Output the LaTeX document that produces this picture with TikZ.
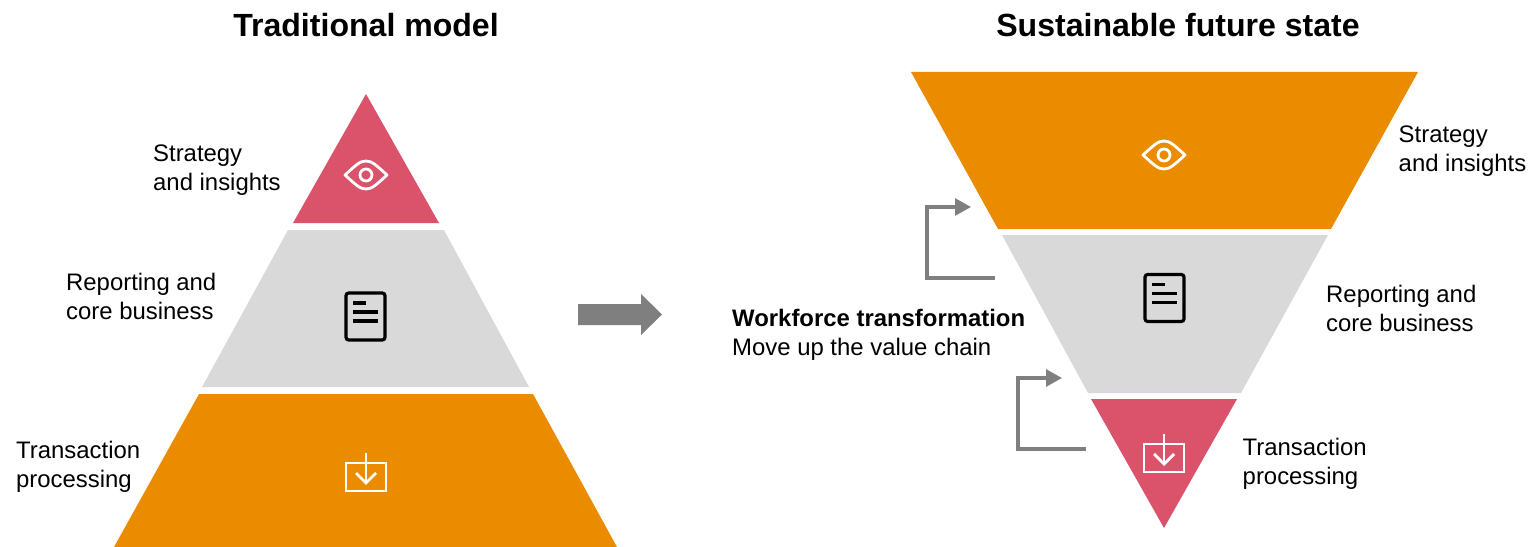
\documentclass[tikz,border=0pt]{standalone}
\usepackage{fontspec}
\usetikzlibrary{arrows.meta}
\setmainfont{Liberation Sans}
\definecolor{orangeblock}{HTML}{EB8C00}
\definecolor{pinkblock}{HTML}{DB536A}
\definecolor{greyblock}{HTML}{D9D9D9}
\definecolor{greyarrow}{HTML}{7F7F7F}
\begin{document}
\begin{tikzpicture}[x=0.02cm, y=-0.02cm,
  title/.style={font=\fontsize{18.25}{22}\selectfont\bfseries},
  label/.style={anchor=west, align=left, font=\fontsize{13.6}{16.5}\selectfont},
  elbow/.style={draw=greyarrow, line width=1.75pt, -{Triangle[length=9pt, width=9.5pt]}},
  eyeicon/.pic={
    \draw[white, line width=1.6pt, line join=round] (-21,0) .. controls (-10,-10) and (-6,-14) .. (0,-14) .. controls (6,-14) and (10,-10) .. (21,0) .. controls (10,10) and (6,14) .. (0,14) .. controls (-6,14) and (-10,10) .. cycle;
    \draw[white, line width=1.6pt] (0,0) circle (6);
  },
  docicon/.pic={
    \draw[black, line width=1.8pt, rounded corners=1.5pt] (-19.5,-23.5) rectangle (19.5,23.5);
    \draw[black, line width=1.75pt] (-12.5,-13.5) -- (0.5,-13.5);
    \draw[black, line width=1.75pt] (-12.5,-4.5) -- (12.5,-4.5);
    \draw[black, line width=1.75pt] (-12.5,4.5) -- (12.5,4.5);
  },
  downicon/.pic={
    \draw[white, line width=1.6pt] (-20,-14) rectangle (20,14);
    \draw[white, line width=1.6pt] (0,-24) -- (0,6);
    \draw[white, line width=1.6pt] (-10,-4) -- (0,6) -- (10,-4);
  }]
\useasboundingbox (0,0) rectangle (1530,547);
% left pyramid
\fill[pinkblock] (366,94) -- (439,223) -- (293,223) -- cycle;
\fill[greyblock] (288,230) -- (444,230) -- (529,387) -- (202,387) -- cycle;
\fill[orangeblock] (199,394) -- (533,394) -- (617,547) -- (114,547) -- cycle;
% right pyramid
\fill[orangeblock] (911,72) -- (1418,72) -- (1331,229) -- (998,229) -- cycle;
\fill[greyblock] (1002,235) -- (1328,235) -- (1241,393) -- (1088,393) -- cycle;
\fill[pinkblock] (1091,399) -- (1237,399) -- (1164,528) -- cycle;
% icons
\pic at (366,175) {eyeicon};
\pic at (365.5,316.5) {docicon};
\pic at (366,477) {downicon};
\pic at (1164,155) {eyeicon};
\pic at (1164.5,298) {docicon};
\pic at (1164,458) {downicon};
% big arrow
\fill[greyarrow] (578,304) -- (641,304) -- (641,294) -- (662,314.5) -- (641,335) -- (641,325) -- (578,325) -- cycle;
% titles
\node (lefttitle)[title] at (366,25) {Traditional model};
\node (righttitle)[title] at (1178,25) {Sustainable future state};
% left labels
\node (leftstrategy)[label] at (147,170) {Strategy\\and insights};
\node (leftreporting)[label] at (60,296.5) {Reporting and\\core business};
\node (lefttransaction)[label] at (10,466.5) {Transaction\\processing};
% right labels
\node (rightstrategy)[label] at (1392.5,151) {Strategy\\and insights};
\node (rightreporting)[label] at (1320,308) {Reporting and\\core business};
\node (righttransaction)[label] at (1236.5,464) {Transaction\\processing};
\node (workforce)[label] at (726,335) {\textbf{Workforce transformation}\\Move up the value chain};
% elbows
\coordinate (upperstart) at (995,278);
\coordinate (uppercorner) at (927,278);
\coordinate (upperbend) at (927,207);
\coordinate (upperend) at (971,207);
\coordinate (lowerstart) at (1086,449);
\coordinate (lowercorner) at (1018,449);
\coordinate (lowerbend) at (1018,378);
\coordinate (lowerend) at (1062,378);
\draw[elbow] (upperstart) -- (uppercorner) -- (upperbend) -- (upperend);
\draw[elbow] (lowerstart) -- (lowercorner) -- (lowerbend) -- (lowerend);
\end{tikzpicture}
\end{document}
